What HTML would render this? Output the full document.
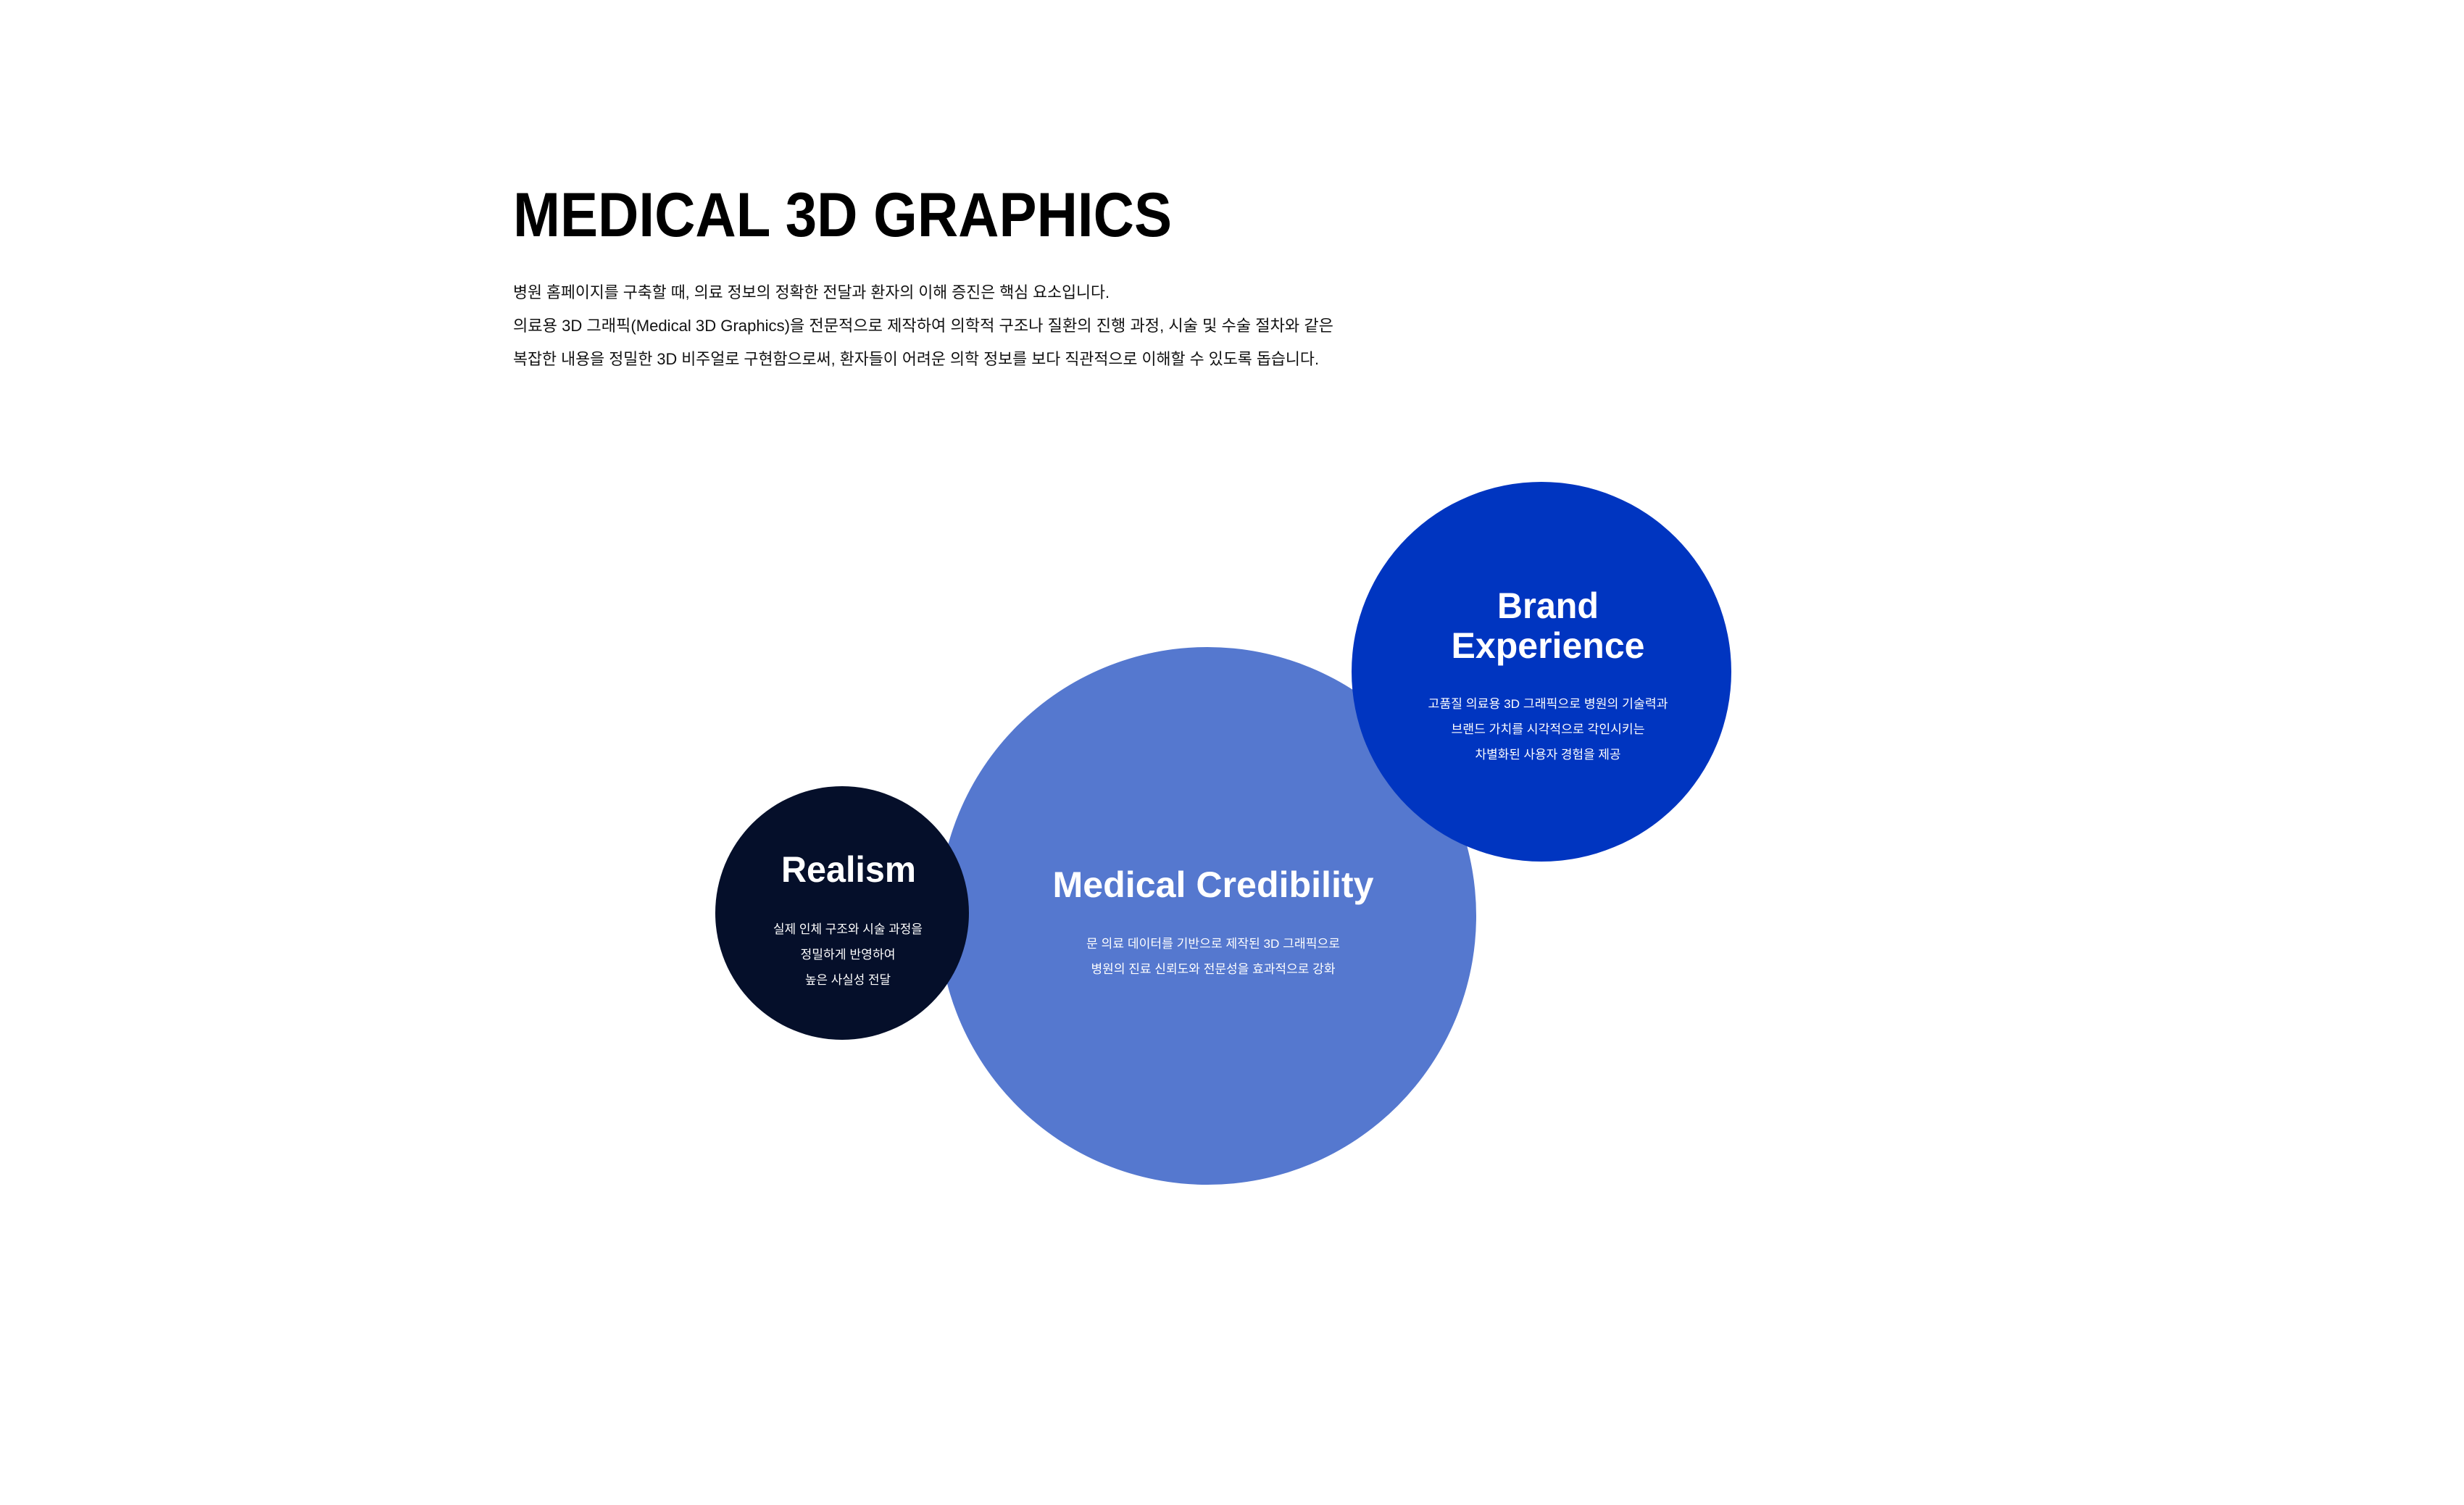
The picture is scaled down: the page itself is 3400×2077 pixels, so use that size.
<!DOCTYPE html>
<html><head><meta charset="utf-8"><style>
html,body{margin:0;padding:0;background:#fff;width:3400px;height:2077px;overflow:hidden}
svg{display:block}
text{font-family:"Liberation Sans","Noto Sans CJK KR",sans-serif}
</style></head><body>
<svg width="3400" height="2077" viewBox="0 0 3400 2077" xmlns="http://www.w3.org/2000/svg">
<text x="708" y="326" font-size="86" font-weight="700" fill="#000" textLength="909" lengthAdjust="spacingAndGlyphs">MEDICAL 3D GRAPHICS</text>
<g font-size="22" fill="#111">
<text x="708" y="411" textLength="823" lengthAdjust="spacingAndGlyphs">병원 홈페이지를 구축할 때, 의료 정보의 정확한 전달과 환자의 이해 증진은 핵심 요소입니다.</text>
<text x="708" y="457" textLength="1132" lengthAdjust="spacingAndGlyphs">의료용 3D 그래픽(Medical 3D Graphics)을 전문적으로 제작하여 의학적 구조나 질환의 진행 과정, 시술 및 수술 절차와 같은</text>
<text x="708" y="503" textLength="1112" lengthAdjust="spacingAndGlyphs">복잡한 내용을 정밀한 3D 비주얼로 구현함으로써, 환자들이 어려운 의학 정보를 보다 직관적으로 이해할 수 있도록 돕습니다.</text>
</g>
<circle cx="1666" cy="1264" r="371" fill="#5578cf"/>
<circle cx="2127" cy="927" r="262" fill="#0035c0"/>
<circle cx="1162" cy="1260" r="175" fill="#050f2a"/>
<g fill="#fff" text-anchor="middle">
<text x="1171" y="1217" font-size="50" font-weight="700" textLength="186" lengthAdjust="spacingAndGlyphs">Realism</text>
<text x="1674" y="1238" font-size="50" font-weight="700" textLength="443" lengthAdjust="spacingAndGlyphs">Medical Credibility</text>
<text x="2136" y="853" font-size="50" font-weight="700" textLength="140" lengthAdjust="spacingAndGlyphs">Brand</text>
<text x="2136" y="908" font-size="50" font-weight="700" textLength="267" lengthAdjust="spacingAndGlyphs">Experience</text>
<g font-size="17">
<text x="1170" y="1288" textLength="206" lengthAdjust="spacingAndGlyphs">실제 인체 구조와 시술 과정을</text>
<text x="1170" y="1323" textLength="131" lengthAdjust="spacingAndGlyphs">정밀하게 반영하여</text>
<text x="1170" y="1358" textLength="118" lengthAdjust="spacingAndGlyphs">높은 사실성 전달</text>
<text x="1674" y="1308" textLength="350" lengthAdjust="spacingAndGlyphs">문 의료 데이터를 기반으로 제작된 3D 그래픽으로</text>
<text x="1674" y="1343" textLength="337" lengthAdjust="spacingAndGlyphs">병원의 진료 신뢰도와 전문성을 효과적으로 강화</text>
<text x="2136" y="977" textLength="331" lengthAdjust="spacingAndGlyphs">고품질 의료용 3D 그래픽으로 병원의 기술력과</text>
<text x="2136" y="1012" textLength="267" lengthAdjust="spacingAndGlyphs">브랜드 가치를 시각적으로 각인시키는</text>
<text x="2136" y="1047" textLength="201" lengthAdjust="spacingAndGlyphs">차별화된 사용자 경험을 제공</text>
</g>
</g>
</svg>
</body></html>
